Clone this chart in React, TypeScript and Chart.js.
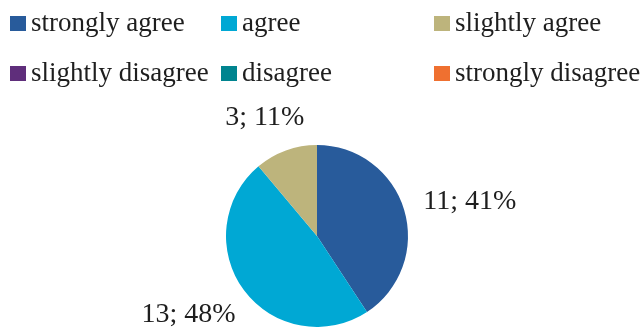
import React, { useEffect, useRef } from "react";
import { Chart, registerables } from "chart.js";

Chart.register(...registerables);

const categories = [
  "strongly agree",
  "agree",
  "slightly agree",
  "slightly disagree",
  "disagree",
  "strongly disagree",
];
const counts = [11, 13, 3, 0, 0, 0];
const colors = ["#285B9B", "#00A8D4", "#BDB47C", "#5F2E7B", "#00848F", "#EF7030"];

const FONT = '"Liberation Serif", "Times New Roman", serif';
const TEXT_COLOR = "#1e1e1e";

// custom fixed-grid legend (3 columns x 2 rows)
const gridLegend = {
  id: "gridLegend",
  afterDraw(chart: any) {
    const ctx = chart.ctx;
    const labels: string[] = chart.data.labels;
    const bg: string[] = chart.data.datasets[0].backgroundColor;
    const colX = [10, 221, 434];
    const rowBaseline = [31, 81];
    ctx.save();
    ctx.font = `27px ${FONT}`;
    ctx.fillStyle = TEXT_COLOR;
    ctx.textBaseline = "alphabetic";
    ctx.textAlign = "left";
    labels.forEach((lab, i) => {
      const x = colX[i % 3];
      const y = rowBaseline[Math.floor(i / 3)];
      ctx.fillStyle = bg[i];
      ctx.fillRect(x, y - 15, 16, 15);
      ctx.fillStyle = TEXT_COLOR;
      ctx.fillText(lab, x + 21, y);
    });
    ctx.restore();
  },
};

// outside-end data labels "value; pct%"
const outsideLabels = {
  id: "outsideLabels",
  afterDatasetsDraw(chart: any) {
    const ctx = chart.ctx;
    const meta = chart.getDatasetMeta(0);
    const data: number[] = chart.data.datasets[0].data;
    const total = data.reduce((a, b) => a + b, 0);
    ctx.save();
    ctx.font = `28px ${FONT}`;
    ctx.fillStyle = TEXT_COLOR;
    ctx.textAlign = "center";
    ctx.textBaseline = "alphabetic";
    meta.data.forEach((arc: any, i: number) => {
      const v = data[i];
      if (!v) return;
      const { x, y, startAngle, endAngle, outerRadius } = arc.getProps(
        ["x", "y", "startAngle", "endAngle", "outerRadius"],
        true
      );
      const mid = (startAngle + endAngle) / 2;
      const c = Math.cos(mid);
      const s = Math.sin(mid);
      const text = `${v}; ${Math.round((v / total) * 100)}%`;
      const w = ctx.measureText(text).width;
      const h = 30;
      const d = outerRadius + 22;
      const ax = x + c * d;
      const ay = y + s * d;
      const cx = ax + (c * w) / 2;
      const cy = ay + (s * h) / 2;
      ctx.fillText(text, cx, cy + 9.5);
    });
    ctx.restore();
  },
};

export default function App() {
  const ref = useRef<HTMLCanvasElement | null>(null);
  useEffect(() => {
    if (!ref.current) return;
    const chart = new Chart(ref.current, {
      type: "pie",
      data: {
        labels: categories,
        datasets: [
          {
            data: counts,
            backgroundColor: colors,
            borderWidth: 0,
            hoverOffset: 0,
            offset: 0,
          },
        ],
      },
      options: {
        animation: false,
        responsive: false,
        maintainAspectRatio: false,
        layout: { padding: { top: 145, left: 226, right: 232, bottom: 0 } },
        plugins: {
          legend: { display: false },
          tooltip: { enabled: false },
        },
      },
      plugins: [outsideLabels, gridLegend],
    });
    return () => chart.destroy();
  }, []);
  return (
    <div style={{ position: "absolute", left: 0, top: 0, width: 640, height: 327, background: "#fff" }}>
      <canvas ref={ref} width={640} height={327} style={{ width: 640, height: 327 }} />
    </div>
  );
}
